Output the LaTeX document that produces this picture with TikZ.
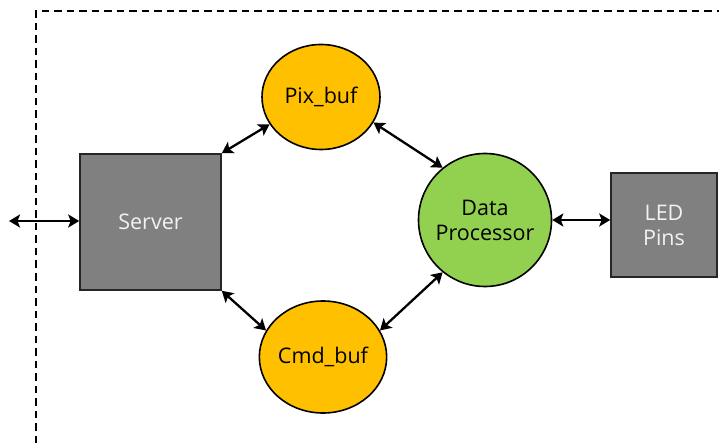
\documentclass[tikz,border=0pt]{standalone}
\usepackage{fontspec}
\setmainfont{Open Sans}
\usetikzlibrary{arrows.meta,shapes.geometric}
\definecolor{bufyellow}{HTML}{FFC000}
\definecolor{procgreen}{HTML}{92D050}
\definecolor{blockgray}{HTML}{808080}
\definecolor{lighttext}{HTML}{F2F2F2}
\tikzset{
  label font/.style={font=\fontsize{21.5}{25}\selectfont},
  block/.style={draw=black!85, line width=1.6pt, fill=blockgray, text=lighttext,
    label font, align=center, inner sep=0pt},
  buffer/.style={ellipse, draw=black, line width=1.6pt, fill=bufyellow,
    label font, inner sep=0pt},
  proc/.style={circle, draw=black, line width=1.6pt, fill=procgreen,
    label font, align=center, inner sep=0pt, minimum size=133pt},
  link/.style={{Stealth[length=11pt,width=13pt,inset=2.5pt]}-{Stealth[length=11pt,width=13pt,inset=2.5pt]},
    line width=2.3pt},
  boundary/.style={dash pattern=on 7.5pt off 5pt, line width=1.6pt}
}
\begin{document}
\begin{tikzpicture}[x=1pt,y=-1pt]
\useasboundingbox (0,0) rectangle (719,443);
% system boundary
\draw[boundary] (36,443) -- (36,11) -- (725,11);
% blocks
\node[block, minimum width=141pt, minimum height=136pt] (server) at (150.5,222) {Server};
\node[block, minimum width=106pt, minimum height=104pt] (led) at (664,225) {LED\\Pins};
\node[buffer, minimum width=118pt, minimum height=105pt] (pix) at (321,97) {Pix\_buf};
\node[buffer, minimum width=122pt, minimum height=112pt] (cmd) at (323,357) {Cmd\_buf};
\node[proc] (dp) at (485,220) {Data\\Processor};
\coordinate (ext) at (9,221);
% connections
\draw[link] (ext) -- (ext -| server.west);
\draw[link] (server.north east) -- (pix.208);
\draw[link] (pix.334) -- (dp.129);
\draw[link] (dp.231) -- (cmd.25);
\draw[link] (server.south east) -- (cmd.155);
\draw[link] (dp.east) -- (dp.east -| led.west);
\end{tikzpicture}
\end{document}
